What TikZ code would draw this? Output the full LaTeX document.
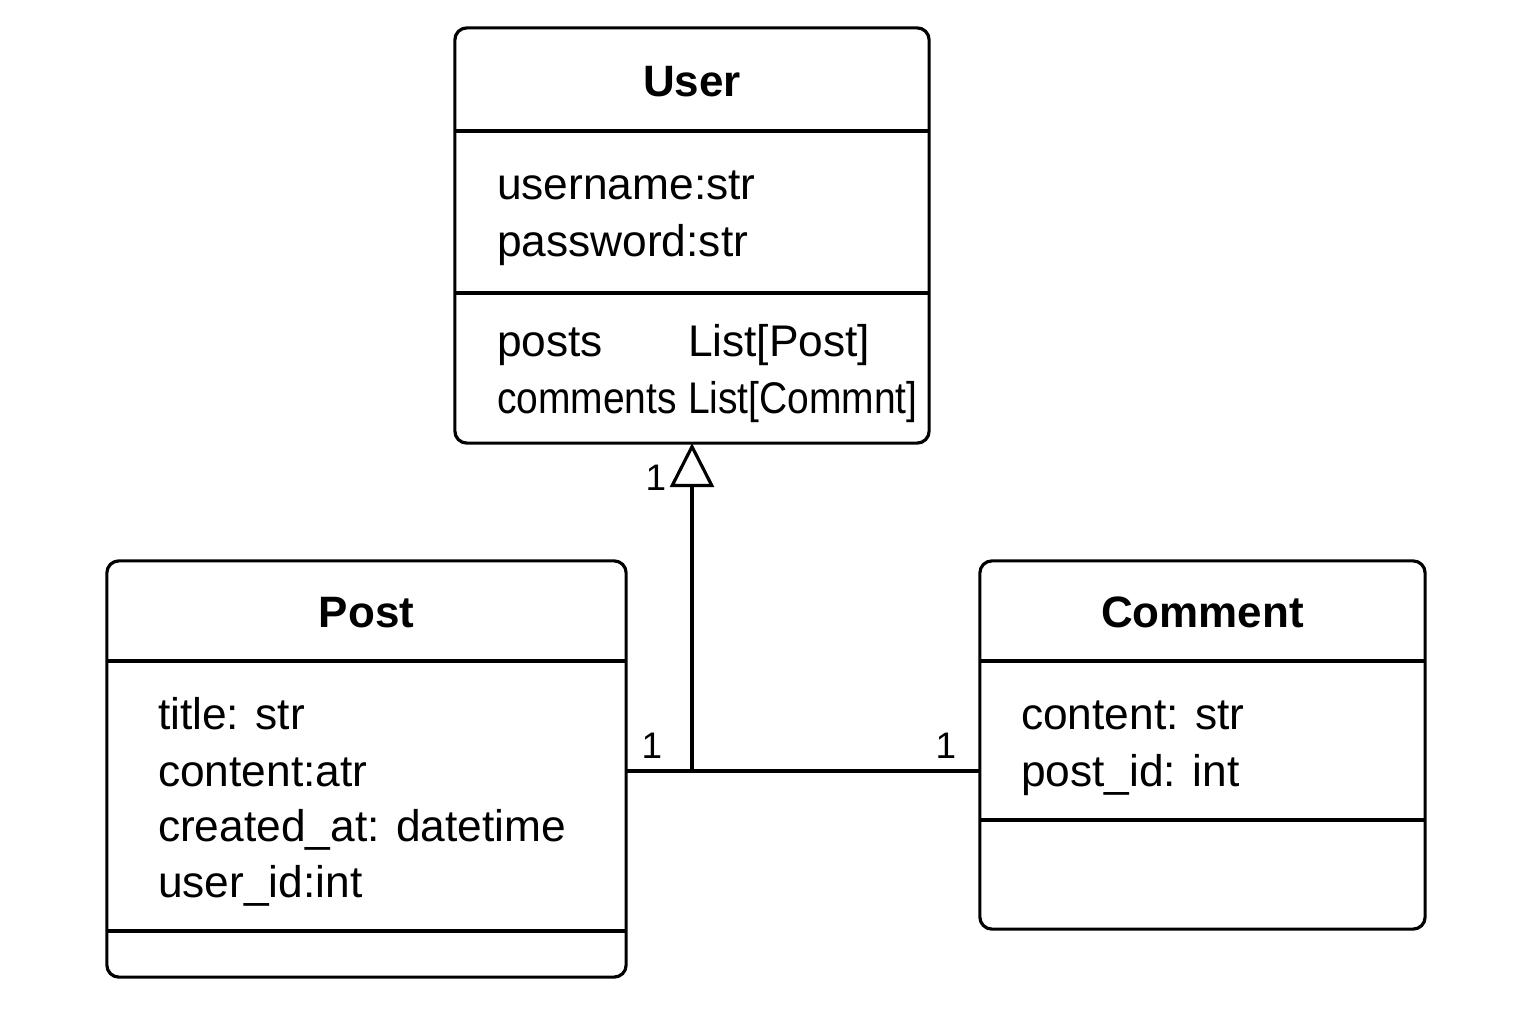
\documentclass[tikz,border=0pt]{standalone}
\usepackage{fontspec}
\setmainfont{Liberation Sans}
\newfontfamily\narrowfont[FakeStretch=0.88]{Liberation Sans}
\usetikzlibrary{arrows,arrows.meta}
\usetikzlibrary{positioning,shapes,fit}

\begin{document}
\begin{tikzpicture}[%
        x=0.01cm, y=-0.01cm,
        every node/.style={inner sep=0pt, outer sep=0pt},
        classbox/.style={draw, rectangle, rounded corners=0.12cm, line width=0.9pt},
        title/.style={font=\fontsize{12.5}{15}\selectfont\bfseries, anchor=base},
        attr/.style={font=\fontsize{12.6}{15}\selectfont, anchor=base west},
        narrowattr/.style={font=\fontsize{12.6}{15}\selectfont\narrowfont, anchor=base west},
        mult/.style={font=\fontsize{10.5}{12}\selectfont, anchor=base},
        conn/.style={line width=0.9pt}
      ]
      \useasboundingbox (0,0) rectangle (1536,1024);
      % classes
      \node [classbox, minimum width=4.74cm, minimum height=4.15cm] (user) at (692,235.5) {};
      \node [classbox, minimum width=5.19cm, minimum height=4.16cm] (post) at (366.5,769) {};
      \node [classbox, minimum width=4.45cm, minimum height=3.68cm] (comment) at (1202.5,745) {};
      \draw [conn] (user.west |- 0,131) -- (user.east |- 0,131);
      \draw [conn] (user.west |- 0,293) -- (user.east |- 0,293);
      \draw [conn] (post.west |- 0,661) -- (post.east |- 0,661);
      \draw [conn] (post.west |- 0,931) -- (post.east |- 0,931);
      \draw [conn] (comment.west |- 0,661) -- (comment.east |- 0,661);
      \draw [conn] (comment.west |- 0,820) -- (comment.east |- 0,820);
      % texts
      \node [title] (usertitle) at (692,96) {User};
      \node [attr] (uname) at (497,199) {username:str};
      \node [attr] (upass) at (497,256) {password:str};
      \node [attr] (uposts) at (497,356) {posts};
      \node [attr] (upoststype) at (688,356) {List[Post]};
      \node [narrowattr] (ucomments) at (497,413) {comments};
      \node [narrowattr] (ucommentstype) at (688,413) {List[Commnt]};
      \node [title] (posttitle) at (366.5,627) {Post};
      \node [attr] (ptitle) at (158,729) {title: str};
      \node [attr] (pcontent) at (158,786) {content:atr};
      \node [attr] (pcreated) at (158,841) {created\_at: datetime};
      \node [attr] (puser) at (158,897) {user\_id:int};
      \node [title] (commenttitle) at (1202.5,627) {Comment};
      \node [attr] (ccontent) at (1021,729) {content: str};
      \node [attr] (cpost) at (1021,786) {post\_id: int};
      % associations
      \coordinate (jn) at (692,771);
      \draw [conn] (post.east |- jn) -- (comment.west |- jn);
      \draw [conn, -{Triangle[open, length=0.44cm, width=0.44cm, line width=0.9pt]}] (jn) -- (user.south -| jn);
      \node [mult] (m1) at (656,490) {1};
      \node [mult] (m2) at (652,758) {1};
      \node [mult] (m3) at (946,758) {1};
    \end{tikzpicture}
\end{document}
